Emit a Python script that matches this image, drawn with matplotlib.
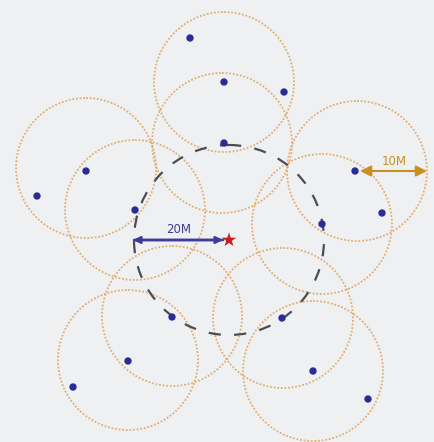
import matplotlib
matplotlib.use("Agg")
import matplotlib.pyplot as plt
from matplotlib.patches import Circle
import numpy as np

# Image-pixel coordinates (x right, y down)
star = (229, 240)
big_radius = 95          # 20M
small_radius = 70        # 10M

circle_cx = [224, 222, 86, 135, 357, 322, 128, 172, 283, 313]
circle_cy = [82, 143, 168, 210, 171, 224, 360, 316, 318, 371]

dot_x = [190, 224, 284, 224, 86, 37, 135, 355, 382, 322, 172, 282, 128, 73, 313, 368]
dot_y = [38, 82, 92, 143, 171, 196, 210, 171, 213, 224, 317, 318, 361, 387, 371, 399]

labels = ["20M", "10M"]

W, H = 434, 442
fig = plt.figure(figsize=(W / 100, H / 100), dpi=100)
ax = fig.add_axes([0, 0, 1, 1])
ax.set_xlim(0, W)
ax.set_ylim(H, 0)
ax.set_aspect("auto")
ax.axis("off")
fig.patch.set_facecolor("#eff0f2")

orange = "#dfa35c"
for cx, cy in zip(circle_cx, circle_cy):
    ax.add_patch(Circle((cx, cy), small_radius, fill=False, edgecolor=orange,
                        lw=1.3, linestyle=(0, (1, 1)), alpha=0.85))

ax.add_patch(Circle(star, big_radius, fill=False, edgecolor="#4a4d55",
                    lw=1.6, linestyle=(0, (5.5, 6))))

ax.scatter(dot_x, dot_y, s=28, color="#2b2b96", zorder=5, edgecolors="none")

navy = "#3e3c98"
ax.annotate("", xy=(star[0] - big_radius - 1, star[1]), xytext=(star[0] - 6, star[1]),
            arrowprops=dict(arrowstyle="-|>", color=navy, lw=1.8, mutation_scale=10,
                            shrinkA=0, shrinkB=0), zorder=6)
ax.annotate("", xy=(star[0] - 6, star[1]), xytext=(star[0] - big_radius, star[1]),
            arrowprops=dict(arrowstyle="-|>", color=navy, lw=1.8, mutation_scale=10,
                            shrinkA=0, shrinkB=0), zorder=6)
ax.text(star[0] - big_radius / 2 - 3, star[1] - 4, labels[0], color=navy,
        fontsize=8.5, ha="center", va="bottom", family="Liberation Sans Narrow")

ax.scatter([star[0]], [star[1]], marker="*", s=120, color="#c81e24", zorder=7,
           edgecolors="none")

gold = "#c8901e"
cx, cy = 357, 171
ax.annotate("", xy=(cx + 3, cy), xytext=(cx + small_radius, cy),
            arrowprops=dict(arrowstyle="<|-|>", color=gold, lw=1.5, mutation_scale=16,
                            shrinkA=0, shrinkB=0), zorder=6)
ax.text(cx + small_radius / 2 + 2, cy - 3, labels[1], color=gold,
        fontsize=8.5, ha="center", va="bottom", family="Liberation Sans Narrow")

fig.savefig("out.png", dpi=100, facecolor=fig.get_facecolor())
